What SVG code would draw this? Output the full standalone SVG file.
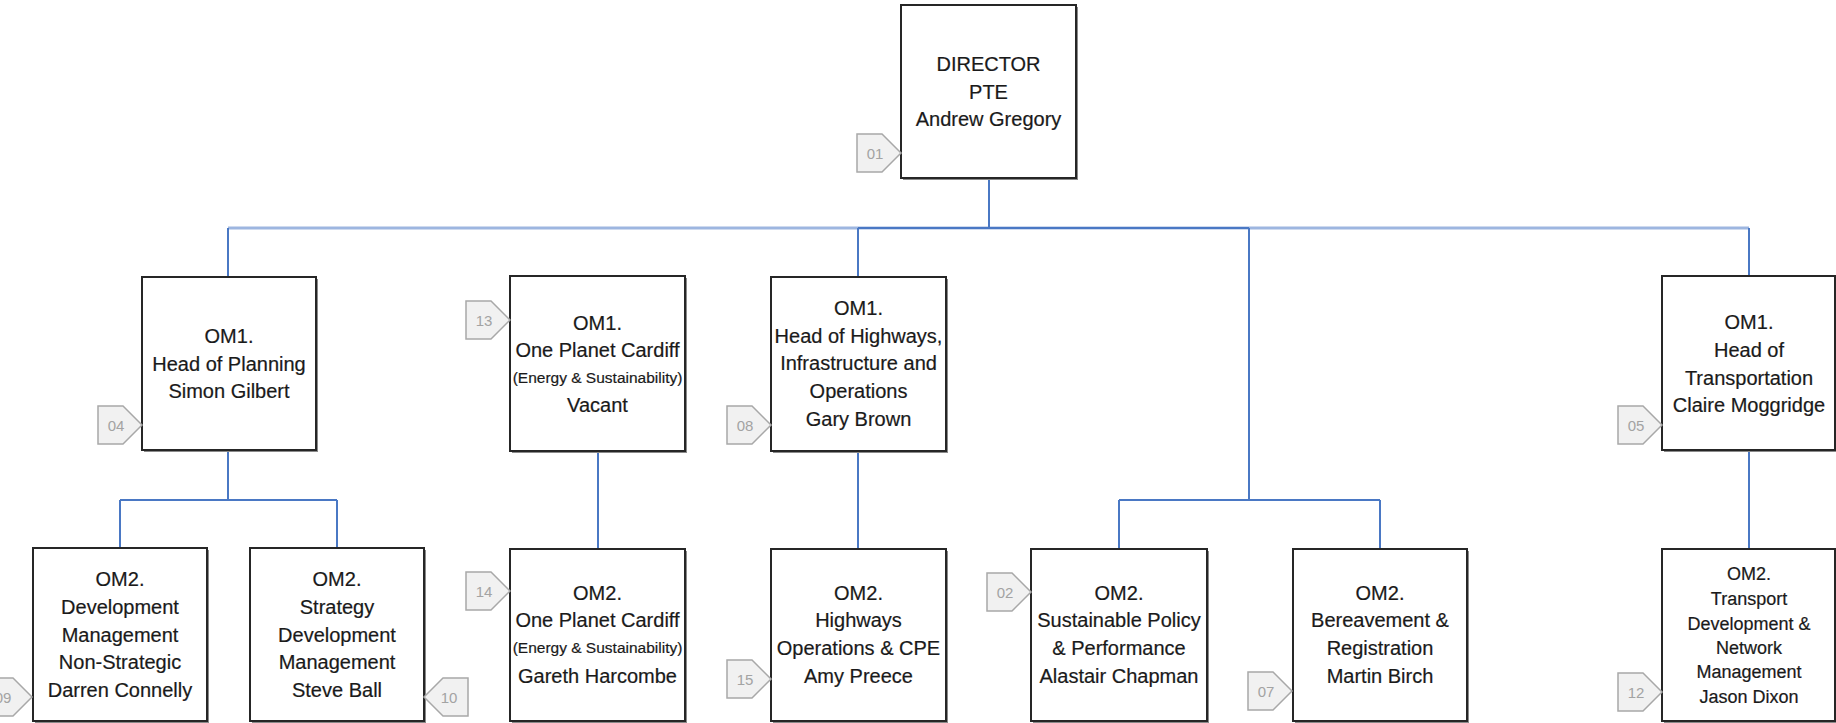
<svg xmlns="http://www.w3.org/2000/svg" width="1836" height="723" viewBox="0 0 1836 723">
<style>
.box{fill:#fff;stroke:#262626;stroke-width:2}
.sh{fill:#8a8a8a}
.t{font-family:"Liberation Sans",Arial,sans-serif;font-size:20px;fill:#1a1a1a;text-anchor:middle;stroke:#1a1a1a;stroke-width:0.2}
.s{font-size:15.5px}
.m{font-size:18px}
.tag{fill:#f1f1f1;stroke:#a8a8a8;stroke-width:1.5}
.tt{font-family:"Liberation Sans",Arial,sans-serif;font-size:15px;fill:#a3a3a3;text-anchor:middle}
.c{fill:none;stroke:#4a78c4;stroke-width:2}
.cl{fill:none;stroke:#9db6e0;stroke-width:3}
</style>
<defs>
<path id="tagR" d="M0,0 H25 L44,19 L25,38 H0 Z"/>
<path id="tagL" d="M44,0 H19 L0,19 L19,38 H44 Z"/>
</defs>
<g id="connectors">
<path class="cl" d="M228,228 H1749"/>
<path class="c" d="M858,228 H1249"/>
<path class="c" d="M989,178 V228"/>
<path class="c" d="M228,228 V277"/>
<path class="c" d="M858,228 V277"/>
<path class="c" d="M1249,228 V500"/>
<path class="c" d="M1749,228 V276"/>
<path class="c" d="M228,450 V500 M120,500 H337 M120,500 V548 M337,500 V548"/>
<path class="c" d="M598,451 V549"/>
<path class="c" d="M858,451 V549"/>
<path class="c" d="M1119,500 H1380 M1119,500 V549 M1380,500 V549"/>
<path class="c" d="M1749,450 V549"/>
</g>
<g id="n01">
<rect class="sh" x="903" y="7" width="175" height="173"/>
<rect class="box" x="901" y="5" width="175" height="173"/>
<text class="t" x="988.5" y="71">DIRECTOR</text>
<text class="t" x="988.5" y="98.5">PTE</text>
<text class="t" x="988.5" y="126">Andrew Gregory</text>
<use href="#tagR" class="tag" x="857" y="134"/>
<text class="tt" x="875" y="159">01</text>
</g>
<g id="n04">
<rect class="sh" x="144" y="279" width="174" height="173"/>
<rect class="box" x="142" y="277" width="174" height="173"/>
<text class="t" x="229" y="343">OM1.</text>
<text class="t" x="229" y="371">Head of Planning</text>
<text class="t" x="229" y="398">Simon Gilbert</text>
<use href="#tagR" class="tag" x="98" y="406"/>
<text class="tt" x="116" y="431">04</text>
</g>
<g id="n13">
<rect class="sh" x="512" y="278" width="175" height="175"/>
<rect class="box" x="510" y="276" width="175" height="175"/>
<text class="t" x="597.5" y="330">OM1.</text>
<text class="t" x="597.5" y="357">One Planet Cardiff</text>
<text class="t s" x="597.5" y="383">(Energy &amp; Sustainability)</text>
<text class="t" x="597.5" y="412">Vacant</text>
<use href="#tagR" class="tag" x="466" y="301"/>
<text class="tt" x="484" y="326">13</text>
</g>
<g id="n08">
<rect class="sh" x="773" y="279" width="175" height="174"/>
<rect class="box" x="771" y="277" width="175" height="174"/>
<text class="t" x="858.5" y="315">OM1.</text>
<text class="t" x="858.5" y="343">Head of Highways,</text>
<text class="t" x="858.5" y="370">Infrastructure and</text>
<text class="t" x="858.5" y="398">Operations</text>
<text class="t" x="858.5" y="426">Gary Brown</text>
<use href="#tagR" class="tag" x="727" y="406"/>
<text class="tt" x="745" y="431">08</text>
</g>
<g id="n05">
<rect class="sh" x="1664" y="278" width="174" height="174"/>
<rect class="box" x="1662" y="276" width="173" height="174"/>
<text class="t" x="1749" y="329">OM1.</text>
<text class="t" x="1749" y="357">Head of</text>
<text class="t" x="1749" y="384.5">Transportation</text>
<text class="t" x="1749" y="412">Claire Moggridge</text>
<use href="#tagR" class="tag" x="1618" y="406"/>
<text class="tt" x="1636" y="431">05</text>
</g>
<g id="n09">
<rect class="sh" x="35" y="550" width="174" height="174"/>
<rect class="box" x="33" y="548" width="174" height="173"/>
<text class="t" x="120" y="586">OM2.</text>
<text class="t" x="120" y="614">Development</text>
<text class="t" x="120" y="642">Management</text>
<text class="t" x="120" y="669">Non-Strategic</text>
<text class="t" x="120" y="697">Darren Connelly</text>
<use href="#tagR" class="tag" x="-12" y="678"/>
<text class="tt" x="3" y="703">09</text>
</g>
<g id="n10">
<rect class="sh" x="252" y="550" width="174" height="174"/>
<rect class="box" x="250" y="548" width="174" height="173"/>
<text class="t" x="337" y="586">OM2.</text>
<text class="t" x="337" y="614">Strategy</text>
<text class="t" x="337" y="642">Development</text>
<text class="t" x="337" y="669">Management</text>
<text class="t" x="337" y="697">Steve Ball</text>
<use href="#tagL" class="tag" x="424" y="678"/>
<text class="tt" x="449" y="703">10</text>
</g>
<g id="n14">
<rect class="sh" x="512" y="551" width="175" height="173"/>
<rect class="box" x="510" y="549" width="175" height="172"/>
<text class="t" x="597.5" y="600">OM2.</text>
<text class="t" x="597.5" y="627">One Planet Cardiff</text>
<text class="t s" x="597.5" y="653">(Energy &amp; Sustainability)</text>
<text class="t" x="597.5" y="683">Gareth Harcombe</text>
<use href="#tagR" class="tag" x="466" y="572"/>
<text class="tt" x="484" y="597">14</text>
</g>
<g id="n15">
<rect class="sh" x="773" y="551" width="175" height="173"/>
<rect class="box" x="771" y="549" width="175" height="172"/>
<text class="t" x="858.5" y="600">OM2.</text>
<text class="t" x="858.5" y="627">Highways</text>
<text class="t" x="858.5" y="655">Operations &amp; CPE</text>
<text class="t" x="858.5" y="683">Amy Preece</text>
<use href="#tagR" class="tag" x="727" y="660"/>
<text class="tt" x="745" y="685">15</text>
</g>
<g id="n02">
<rect class="sh" x="1033" y="551" width="176" height="173"/>
<rect class="box" x="1031" y="549" width="176" height="172"/>
<text class="t" x="1119" y="600">OM2.</text>
<text class="t" x="1119" y="627">Sustainable Policy</text>
<text class="t" x="1119" y="655">&amp; Performance</text>
<text class="t" x="1119" y="683">Alastair Chapman</text>
<use href="#tagR" class="tag" x="987" y="573"/>
<text class="tt" x="1005" y="598">02</text>
</g>
<g id="n07">
<rect class="sh" x="1295" y="551" width="174" height="173"/>
<rect class="box" x="1293" y="549" width="174" height="172"/>
<text class="t" x="1380" y="600">OM2.</text>
<text class="t" x="1380" y="627">Bereavement &amp;</text>
<text class="t" x="1380" y="655">Registration</text>
<text class="t" x="1380" y="683">Martin Birch</text>
<use href="#tagR" class="tag" x="1248" y="672"/>
<text class="tt" x="1266" y="697">07</text>
</g>
<g id="n12">
<rect class="sh" x="1664" y="551" width="174" height="173"/>
<rect class="box" x="1662" y="549" width="173" height="172"/>
<text class="t m" x="1749" y="580">OM2.</text>
<text class="t m" x="1749" y="605">Transport</text>
<text class="t m" x="1749" y="630">Development &amp;</text>
<text class="t m" x="1749" y="654">Network</text>
<text class="t m" x="1749" y="678">Management</text>
<text class="t m" x="1749" y="703">Jason Dixon</text>
<use href="#tagR" class="tag" x="1618" y="673"/>
<text class="tt" x="1636" y="698">12</text>
</g>
</svg>
